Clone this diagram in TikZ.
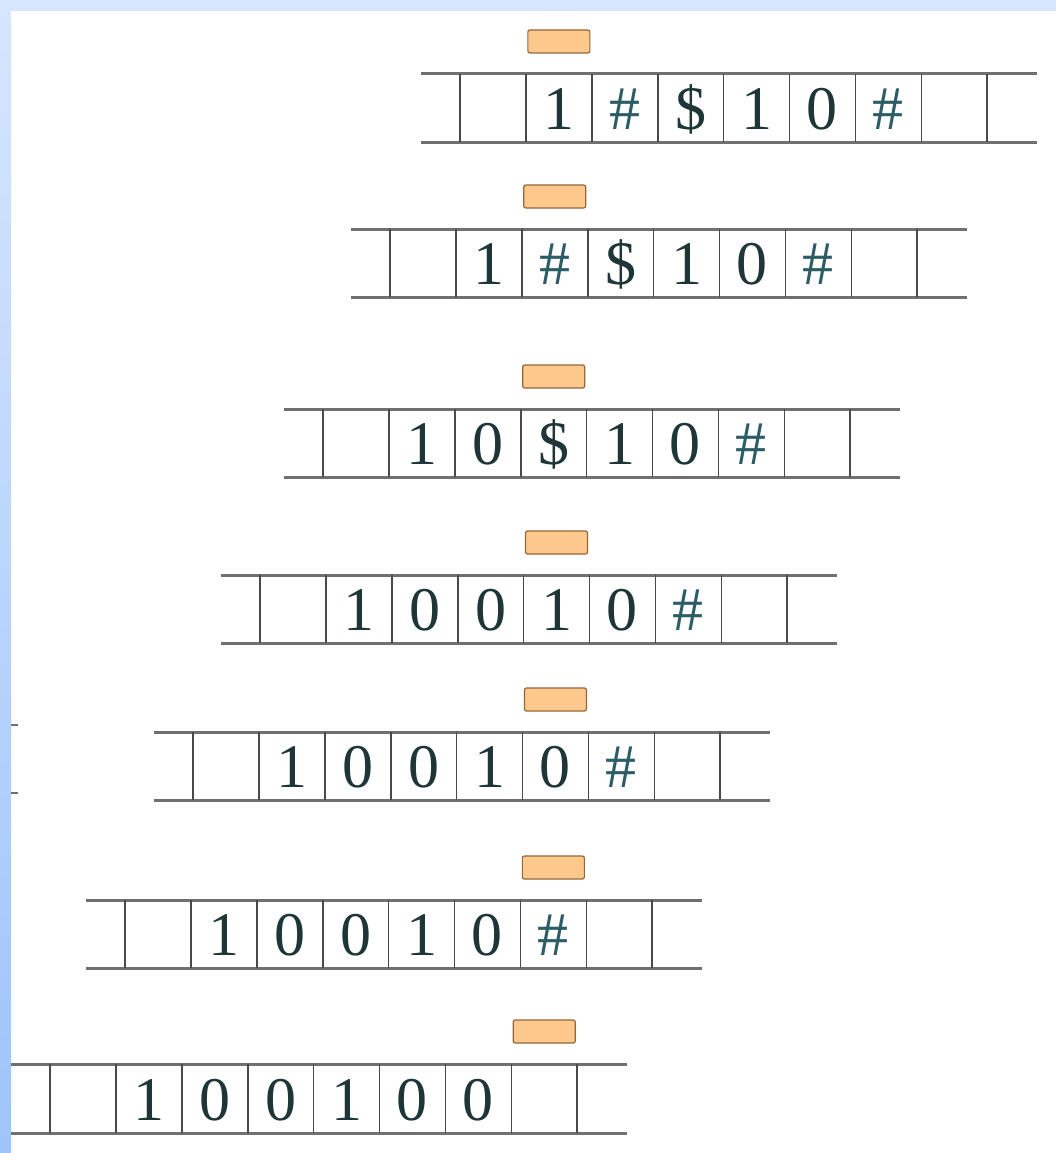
\documentclass[tikz,border=0pt]{standalone}
\usepackage{fontspec}
\setmainfont{Liberation Serif}
\definecolor{frameA}{HTML}{D6E6FD}
\definecolor{frameB}{HTML}{9EC4FB}
\definecolor{tapeline}{HTML}{707070}
\definecolor{cellline}{HTML}{4A4A4A}
\definecolor{symcol}{HTML}{1E3638}
\definecolor{hashcol}{HTML}{2C5C66}
\definecolor{headfill}{HTML}{FCC88C}
\definecolor{headdraw}{HTML}{946638}
\newcommand\hsym{{\color{hashcol}\#}}
\newcommand\tape[6]{%
  % #1 name, #2 first divider x, #3 top y, #4 bottom y, #5 symbols, #6 head cell
  \coordinate (#1tl) at ({#2-39},#3);
  \coordinate (#1tr) at ({#2+8*65.9+50},#3);
  \coordinate (#1bl) at ({#2-39},#4);
  \coordinate (#1br) at ({#2+8*65.9+50},#4);
  \draw[rail] (#1tl) -- (#1tr);
  \draw[rail] (#1bl) -- (#1br);
  \foreach \k in {0,...,8}{
    \coordinate (#1d\k t) at ({#2+\k*65.9},#3);
    \coordinate (#1d\k b) at ({#2+\k*65.9},#4);
    \draw[divider] (#1d\k t) -- (#1d\k b);
  }
  \foreach \s [count=\k from 0] in {#5}{
    \node[symb] (#1c\k) at ({#2+\k*65.9+32.95},{#4-13}) {\s};
  }
  \node[headbox] (#1h) at ({#2+(#6+0.5)*65.9},{#3-32.5}) {};
}
\begin{document}
\begin{tikzpicture}[x=1pt,y=-1pt,
  rail/.style={line width=3pt,draw=tapeline},
  divider/.style={line width=1.6pt,draw=cellline},
  symb/.style={font=\fontsize{62}{64}\selectfont,text=symcol,inner sep=0pt,anchor=base},
  headbox/.style={draw=headdraw,fill=headfill,line width=1.2pt,rounded corners=2pt,
    minimum width=62pt,minimum height=23pt,inner sep=0pt}]
\useasboundingbox (0,0) rectangle (1056,1153);
\fill[white] (0,0) rectangle (1056,1153);
\fill[frameA] (0,0) rectangle (1056,11);
\shade[top color=frameA,bottom color=frameB] (0,0) rectangle (11,1153);

\tape{ra}{460}{74}{142}{{},1,\hsym,\$,1,0,\hsym,{}}{1}
\tape{rb}{390}{229}{297}{{},1,\hsym,\$,1,0,\hsym,{}}{2}
\tape{rc}{323}{409}{477}{{},1,0,\$,1,0,\hsym,{}}{3}
\tape{rd}{260}{575}{643}{{},1,0,0,1,0,\hsym,{}}{4}
\tape{re}{193}{732}{800}{{},1,0,0,1,0,\hsym,{}}{5}
\tape{rf}{125}{900}{968}{{},1,0,0,1,0,\hsym,{}}{6}
\tape{rg}{50}{1064}{1133}{{},1,0,0,1,0,0,{}}{7}

% small rail remnants at the left edge
\coordinate (m1a) at (11,725);
\coordinate (m1b) at (18,725);
\coordinate (m2a) at (11,793);
\coordinate (m2b) at (18,793);
\draw[rail,line width=2.5pt] (m1a) -- (m1b);
\draw[rail,line width=2.5pt] (m2a) -- (m2b);
\end{tikzpicture}
\end{document}
